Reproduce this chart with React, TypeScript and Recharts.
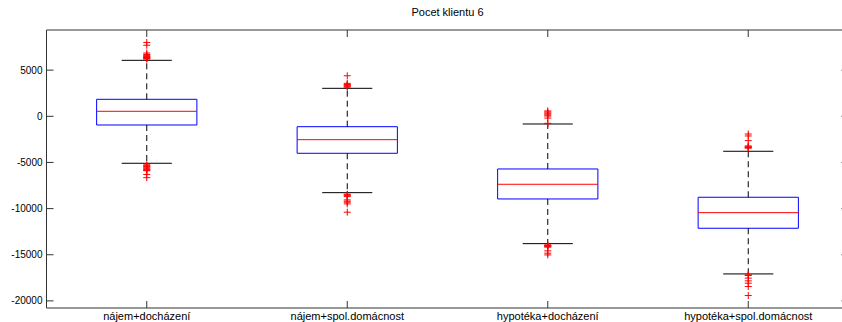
import React from 'react';
import {
  ComposedChart,
  XAxis,
  YAxis,
  Scatter,
  ReferenceArea,
  ReferenceLine,
} from 'recharts';

// Box plot summary per group
const categories = [
  'nájem+docházení',
  'nájem+spol.domácnost',
  'hypotéka+docházení',
  'hypotéka+spol.domácnost',
];
const lowerWhisker = [-5090, -8274, -13797, -17079];
const q1 = [-942, -4007, -8956, -12130];
const median = [541, -2534, -7364, -10440];
const q3 = [1841, -1126, -5707, -8772];
const upperWhisker = [6065, 3032, -834, -3790];

// Outlier values per group
const outliers1 = [
  8000, 7700, 6850, 6700, 6600, 6500, 6450, 6400, 6350, 6300, 6250, 6200,
  -5250, -5350, -5450, -5500, -5600, -5700, -5750, -5850, -5900, -6300, -6650,
];
const outliers2 = [
  4390, 3570, 3450, 3400, 3300, 3250, 3150,
  -8440, -8500, -8600, -8700, -9060, -9200, -9310, -9490, -10390,
];
const outliers3 = [
  580, 470, 350, 250, 130, 30, -190, -760, -800,
  -13930, -14000, -14050, -14100, -14180, -14580, -14830, -15020,
];
const outliers4 = [
  -1920, -2130, -2640, -3210, -3300, -3350, -3400, -3450,
  -17180, -17250, -17530, -17830, -18080, -18440, -19420,
];
const outlierGroups = [outliers1, outliers2, outliers3, outliers4];

const yTicks = [-20000, -15000, -10000, -5000, 0, 5000];
const xTicks = [1, 2, 3, 4];
const title = 'Pocet klientu 6';

const Y_MIN = -20770;
const Y_MAX = 9350;
const X_MIN = 0.5;
const X_MAX = 4.5;
const BOX_HALF = 0.25;
const CAP_HALF = 0.125;
const TICK_X = 0.035;
const TICK_Y = 760;

const FONT = '"Liberation Sans", Arial, Helvetica, sans-serif';
const AXIS_COLOR = '#333';

const PlusMarker = (props: any) => {
  const { cx, cy } = props;
  if (cx == null || cy == null) return null;
  return (
    <path
      d={`M${cx - 3.5},${cy}h7M${cx},${cy - 3.5}v7`}
      stroke="#ff0000"
      strokeWidth={1}
      fill="none"
    />
  );
};

export default function App() {
  return (
    <div
      style={{
        position: 'absolute',
        left: 0,
        top: 0,
        width: 842,
        height: 322,
        overflow: 'hidden',
        background: '#fff',
      }}
    >
      <div
        style={{
          position: 'absolute',
          left: 0,
          width: 895,
          top: 6,
          textAlign: 'center',
          fontFamily: FONT,
          fontSize: 11,
          color: '#000',
          lineHeight: '13px',
        }}
      >
        {title}
      </div>
      <ComposedChart
        width={850}
        height={322}
        margin={{ top: 30, right: 1.5, bottom: 0, left: 0 }}
      >
        <XAxis
          type="number"
          dataKey="x"
          domain={[X_MIN, X_MAX]}
          ticks={xTicks}
          interval={0}
          allowDataOverflow
          tickFormatter={(v: number) => categories[v - 1] ?? ''}
          axisLine={false}
          tickLine={false}
          tickSize={0}
          tickMargin={4}
          height={14}
          tick={{ fontSize: 11, fill: '#000', fontFamily: FONT }}
        />
        <YAxis
          type="number"
          dataKey="y"
          domain={[Y_MIN, Y_MAX]}
          ticks={yTicks}
          interval={0}
          allowDataOverflow
          axisLine={false}
          tickLine={false}
          tickSize={0}
          tickMargin={4}
          width={46.5}
          tick={{ fontSize: 10, fill: '#000', fontFamily: FONT }}
        />

        {/* axes frame */}
        <ReferenceArea
          x1={X_MIN}
          x2={X_MAX}
          y1={Y_MIN}
          y2={Y_MAX}
          fill="none"
          fillOpacity={0}
          stroke={AXIS_COLOR}
          strokeWidth={1}
          ifOverflow="visible"
        />

        {/* inward ticks on left and right */}
        {yTicks.map((v) => (
          <ReferenceLine
            key={`yl${v}`}
            segment={[{ x: X_MIN, y: v }, { x: X_MIN + TICK_X, y: v }]}
            stroke={AXIS_COLOR}
            ifOverflow="visible"
          />
        ))}
        {yTicks.map((v) => (
          <ReferenceLine
            key={`yr${v}`}
            segment={[{ x: X_MAX - TICK_X, y: v }, { x: X_MAX, y: v }]}
            stroke={AXIS_COLOR}
            ifOverflow="visible"
          />
        ))}
        {/* inward ticks on bottom and top */}
        {xTicks.map((v) => (
          <ReferenceLine
            key={`xb${v}`}
            segment={[{ x: v, y: Y_MIN }, { x: v, y: Y_MIN + TICK_Y }]}
            stroke={AXIS_COLOR}
            ifOverflow="visible"
          />
        ))}
        {xTicks.map((v) => (
          <ReferenceLine
            key={`xt${v}`}
            segment={[{ x: v, y: Y_MAX - TICK_Y }, { x: v, y: Y_MAX }]}
            stroke={AXIS_COLOR}
            ifOverflow="visible"
          />
        ))}

        {/* whiskers */}
        {categories.map((c, i) => (
          <ReferenceLine
            key={`wu${c}`}
            segment={[{ x: i + 1, y: q3[i] }, { x: i + 1, y: upperWhisker[i] }]}
            stroke="#000"
            strokeDasharray="6 4"
            ifOverflow="visible"
          />
        ))}
        {categories.map((c, i) => (
          <ReferenceLine
            key={`wl${c}`}
            segment={[{ x: i + 1, y: q1[i] }, { x: i + 1, y: lowerWhisker[i] }]}
            stroke="#000"
            strokeDasharray="6 4"
            ifOverflow="visible"
          />
        ))}
        {categories.map((c, i) => (
          <ReferenceLine
            key={`cu${c}`}
            segment={[
              { x: i + 1 - CAP_HALF, y: upperWhisker[i] },
              { x: i + 1 + CAP_HALF, y: upperWhisker[i] },
            ]}
            stroke="#000"
            ifOverflow="visible"
          />
        ))}
        {categories.map((c, i) => (
          <ReferenceLine
            key={`cl${c}`}
            segment={[
              { x: i + 1 - CAP_HALF, y: lowerWhisker[i] },
              { x: i + 1 + CAP_HALF, y: lowerWhisker[i] },
            ]}
            stroke="#000"
            ifOverflow="visible"
          />
        ))}

        {/* boxes */}
        {categories.map((c, i) => (
          <ReferenceArea
            key={`box${c}`}
            x1={i + 1 - BOX_HALF}
            x2={i + 1 + BOX_HALF}
            y1={q1[i]}
            y2={q3[i]}
            fill="none"
            fillOpacity={0}
            stroke="#0000ff"
            strokeWidth={1}
            ifOverflow="visible"
          />
        ))}
        {/* medians */}
        {categories.map((c, i) => (
          <ReferenceLine
            key={`med${c}`}
            segment={[
              { x: i + 1 - BOX_HALF, y: median[i] },
              { x: i + 1 + BOX_HALF, y: median[i] },
            ]}
            stroke="#ff0000"
            ifOverflow="visible"
          />
        ))}

        {/* outliers */}
        {outlierGroups.map((g, i) => (
          <Scatter
            key={`out${i}`}
            data={g.map((y) => ({ x: i + 1, y }))}
            dataKey="y"
            shape={PlusMarker}
            isAnimationActive={false}
          />
        ))}
      </ComposedChart>
    </div>
  );
}
